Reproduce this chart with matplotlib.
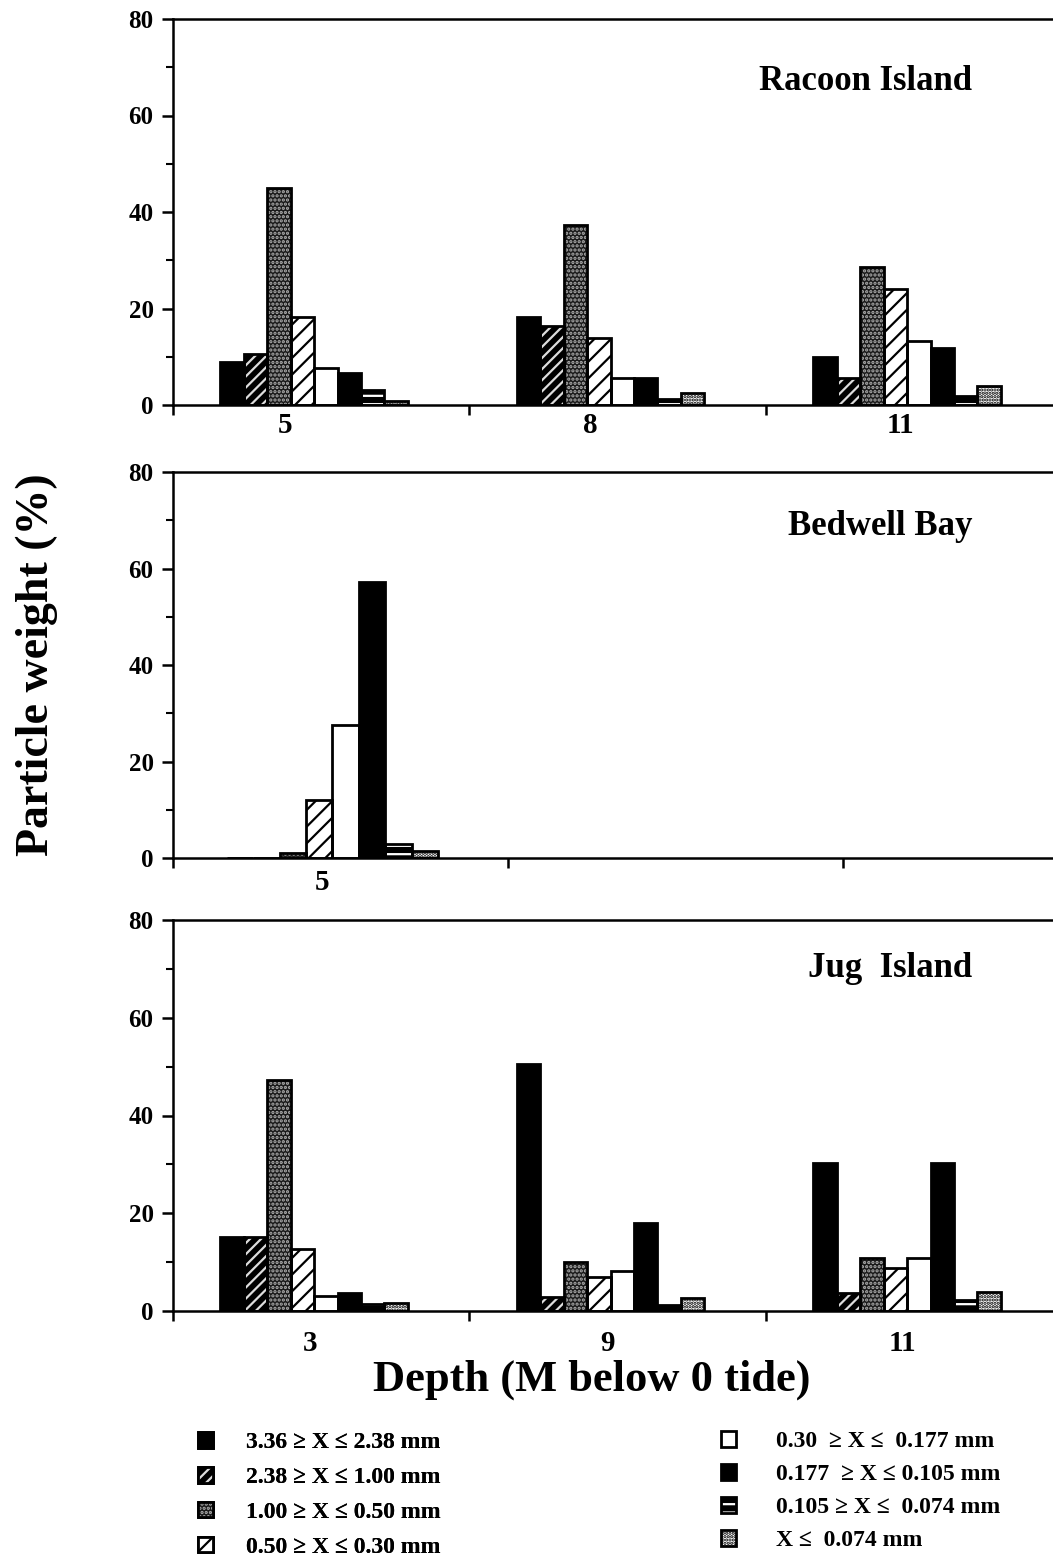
import matplotlib
matplotlib.use("Agg")
import matplotlib.pyplot as plt
import numpy as np
from matplotlib.patches import Patch, Rectangle
from matplotlib.legend_handler import HandlerBase
from matplotlib.ticker import MultipleLocator

plt.rcParams['font.family'] = ['Liberation Serif', 'DejaVu Serif']
plt.rcParams['font.weight'] = 'bold'
plt.rcParams['hatch.linewidth'] = 1.6

# ---------------- data ----------------
size_classes = ['3.36 \u2265 X \u2264 2.38 mm', '2.38 \u2265 X \u2264 1.00 mm',
                '1.00 \u2265 X \u2264 0.50 mm', '0.50 \u2265 X \u2264 0.30 mm',
                '0.30  \u2265 X \u2264  0.177 mm', '0.177  \u2265 X \u2264 0.105 mm',
                '0.105 \u2265 X \u2264  0.074 mm', 'X \u2264  0.074 mm']

racoon_depths = ['5', '8', '11']
racoon_5 = [9.0, 10.5, 44.9, 18.3, 7.7, 6.7, 3.2, 0.9]
racoon_8 = [18.2, 16.4, 37.4, 13.8, 5.5, 5.5, 1.2, 2.4]
racoon_11 = [9.9, 5.5, 28.5, 24.1, 13.3, 11.9, 1.9, 3.9]

bedwell_depths = ['5']
bedwell_5 = [0.0, 0.0, 1.0, 12.1, 27.5, 57.2, 2.8, 1.5]

jug_depths = ['3', '9', '11']
jug_3 = [15.1, 15.1, 47.3, 12.6, 3.0, 3.6, 1.5, 1.6]
jug_9 = [50.5, 2.9, 10.1, 7.0, 8.2, 18.1, 1.2, 2.6]
jug_11 = [30.3, 3.7, 10.8, 8.7, 10.8, 30.3, 2.3, 3.8]

site_names = ['Racoon Island', 'Bedwell Bay', 'Jug  Island']

# ---------------- styles ----------------
face = ['black', 'black', '#1a1a1a', 'white', 'white', 'black', 'black', 'white']
hatch = [None, '///', '....', '//', None, None, '--', '.....']
hcolor = ['black', '#dddddd', '#b0b0b0', 'black', 'black', 'black', 'white', 'black']

W, H = 1053, 1562
fig = plt.figure(figsize=(W / 100, H / 100), dpi=100)

panels = [
    dict(rect=[173, 19, 405], data=[racoon_5, racoon_8, racoon_11], labels=racoon_depths,
         xmax=2.968, labpos=[0.378, 1.406, 2.452], pad=5, title_y=0.837),
    dict(rect=[173, 472, 858], data=[bedwell_5], labels=bedwell_depths,
         xmax=2.627, labpos=[0.445], pad=8, title_y=0.858),
    dict(rect=[173, 920, 1311], data=[jug_3, jug_9, jug_11], labels=jug_depths,
         xmax=2.968, labpos=[0.462, 1.467, 2.459], pad=14, title_y=0.877),
]

bw = 0.079
start = 0.16
for p, name in zip(panels, site_names):
    l, t, b = p['rect']
    ax = fig.add_axes([l / W, 1 - b / H, 1 - l / W, (b - t) / H])
    for g, vals in enumerate(p['data']):
        for k, v in enumerate(vals):
            x = g + start + k * bw
            ax.bar(x, v, width=bw, align='edge', color=face[k], hatch=hatch[k],
                   edgecolor=hcolor[k], linewidth=0, zorder=2)
            ax.bar(x, v, width=bw, align='edge', facecolor='none',
                   edgecolor='black', linewidth=2.0, zorder=3)
    ax.set_xlim(0, p['xmax'])
    ax.set_ylim(0, 80)
    ax.spines['right'].set_visible(False)
    for s in ['left', 'bottom', 'top']:
        ax.spines[s].set_linewidth(1.8)
        ax.spines[s].set_zorder(4)
    ax.set_yticks([0, 20, 40, 60, 80])
    ax.yaxis.set_minor_locator(MultipleLocator(10))
    ax.set_xticks(np.arange(0, int(p['xmax']) + 1))
    ax.set_xticklabels([])
    ax.set_xticks(p['labpos'], p['labels'], minor=True)
    ax.tick_params(axis='y', which='major', direction='out', length=8, width=1.8,
                   labelsize=18, pad=6)
    ax.tick_params(axis='y', which='minor', direction='out', length=5, width=1.5)
    ax.tick_params(axis='x', which='major', direction='out', length=7, width=1.8)
    ax.tick_params(axis='x', which='minor', length=0, labelsize=21, pad=p['pad'])
    for lab in ax.get_yticklabels() + ax.get_xticklabels(minor=True):
        lab.set_fontweight('bold')
    ax.text(0.908, p['title_y'], name, transform=ax.transAxes, ha='right',
            va='center', fontsize=25, fontweight='bold')

fig.text(37 / W, 1 - 665 / H, 'Particle weight (%)', rotation=90, ha='center',
         va='center', fontsize=33, fontweight='bold')
fig.text(592 / W, 1 - 1380 / H, 'Depth (M below 0 tide)', ha='center',
         va='center', fontsize=32, fontweight='bold')


class OverlayHandler(HandlerBase):
    def create_artists(self, legend, orig, xdescent, ydescent, width, height,
                       fontsize, trans):
        r1 = Rectangle((-xdescent, -ydescent), width, height,
                       facecolor=orig.get_facecolor(), hatch=orig.get_hatch(),
                       edgecolor=orig.get_edgecolor(), linewidth=0, transform=trans)
        r2 = Rectangle((-xdescent, -ydescent), width, height, facecolor='none',
                       edgecolor='black', linewidth=2.0, transform=trans)
        return [r1, r2]


handles = [Patch(facecolor=face[k], hatch=hatch[k], edgecolor=hcolor[k])
           for k in range(len(size_classes))]

base_kw = dict(frameon=False, handlelength=0.65, handleheight=0.65,
               borderpad=0, borderaxespad=0,
               handler_map={Patch: OverlayHandler()},
               prop={'weight': 'bold', 'size': 17})
leg1 = fig.legend(handles[:4], size_classes[:4], loc='upper left',
                  bbox_to_anchor=(198 / W, 1 - 1432 / H), handletextpad=1.4,
                  labelspacing=0.58, **base_kw)
fig.add_artist(leg1)
leg2 = fig.legend(handles[4:], size_classes[4:], loc='upper left',
                  bbox_to_anchor=(721 / W, 1 - 1431 / H), handletextpad=1.7,
                  labelspacing=0.5, **base_kw)

fig.savefig('out.png', dpi=100)
